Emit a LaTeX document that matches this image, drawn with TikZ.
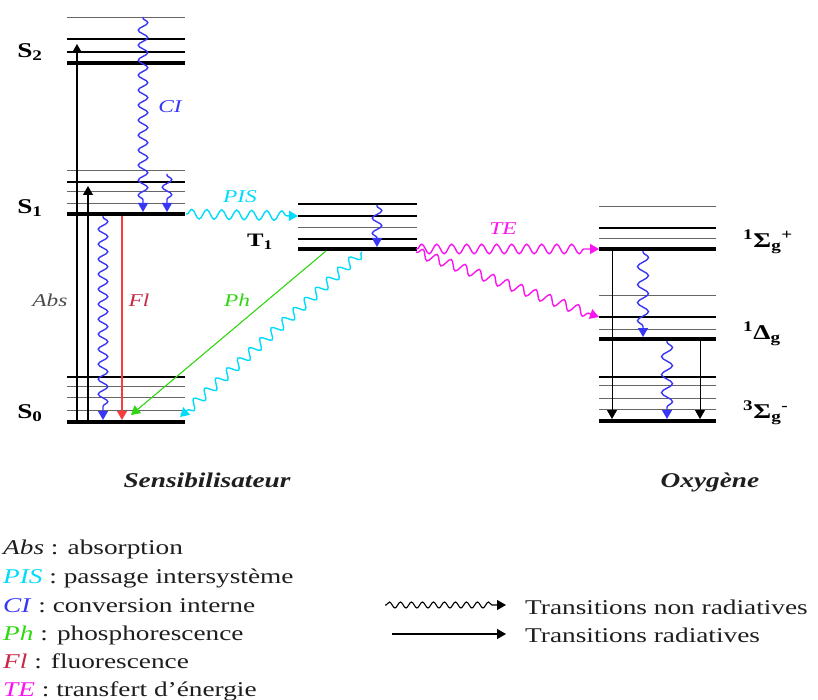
\documentclass[tikz,border=0pt]{standalone}
\usepackage{fontspec}
\setmainfont{Liberation Serif}
\usepackage{graphicx}
\usetikzlibrary{decorations.pathmorphing,arrows.meta}

\definecolor{ciblue}{RGB}{55,55,245}
\definecolor{piscyan}{RGB}{0,220,250}
\definecolor{temag}{RGB}{250,20,240}
\definecolor{phgreen}{RGB}{50,215,20}
\definecolor{flred}{RGB}{250,60,60}
\definecolor{fltext}{RGB}{200,40,70}
\definecolor{txt}{RGB}{30,30,30}

% text is set a little wider than it is high
\newcommand\wide[1]{\scalebox{1.3}[1]{#1}}

\begin{document}
\begin{tikzpicture}[x=1pt,y=-1pt,
  lvthin/.style={draw=black!60,line width=0.9pt},
  lvmid/.style={draw=black,line width=1.6pt},
  lvmain/.style={draw=black,line width=4pt},
  tipfill/.style={-{Triangle[width=10pt,length=9pt]}},
  radiative/.style={tipfill,line width=1.1pt},
  wavy/.style={tipfill,line width=1.4pt,decorate,
    decoration={snake,amplitude=4.8,segment length=15,pre length=1,post length=9}},
  bigwavy/.style={wavy,decoration={snake,amplitude=5.5,segment length=18,pre length=1,post length=9}},
  lab/.style={inner sep=0pt,font=\fontsize{18}{20}\selectfont\itshape},
  lvlab/.style={inner sep=0pt,font=\fontsize{21}{24}\selectfont\bfseries},
  leg/.style={anchor=base west,inner sep=0pt,text=txt,font=\fontsize{21}{24}\selectfont}
]
\useasboundingbox (0,0) rectangle (818,700);

% ---------- energy levels: sensitizer ----------
\foreach \y/\s in {17/lvthin,39/lvmid,52/lvmid,63/lvmain,
                   170/lvthin,182/lvmid,191/lvthin,203/lvthin,214/lvmain,
                   377/lvmid,386/lvthin,397/lvthin,410/lvthin,422/lvmain}
  \path[\s] (67,\y) -- (185,\y);
% triplet T1
\foreach \y/\s in {204/lvmid,216/lvmid,227/lvthin,239/lvmid,249/lvmain}
  \path[\s] (298,\y) -- (417,\y);
% ---------- energy levels: oxygen ----------
\foreach \y/\s in {206/lvthin,228/lvmid,238/lvthin,249/lvmain,
                   295/lvthin,317/lvmid,329/lvthin,339/lvmain,
                   377/lvmid,385/lvthin,398/lvthin,409/lvthin,421/lvmain}
  \path[\s] (599,\y) -- (716,\y);

% ---------- level labels ----------
\node[lvlab] (lS2) at (30,52) {\wide{S\textsubscript{2}}};
\node[lvlab] (lS1) at (30,208) {\wide{S\textsubscript{1}}};
\node[lvlab] (lS0) at (30,413) {\wide{S\textsubscript{0}}};
\node[lvlab,font=\fontsize{19}{22}\selectfont\bfseries] (lT1) at (260,242) {\wide{T\textsubscript{1}}};
\node[lvlab,anchor=west] (lSgp) at (743,242) {\wide{\textsuperscript{1}Σ\textsubscript{g}\textsuperscript{+}}};
\node[lvlab,anchor=west] (lDg) at (743,334) {\wide{\textsuperscript{1}Δ\textsubscript{g}}};
\node[lvlab,anchor=west] (lSgm) at (743,413) {\wide{\textsuperscript{3}Σ\textsubscript{g}\textsuperscript{-}}};

% ---------- transition end points ----------
\coordinate (absA0) at (77,422);  \coordinate (absA1) at (77,44);
\coordinate (absB0) at (88,422);  \coordinate (absB1) at (88,186);
\coordinate (ciA0) at (143,17);   \coordinate (ciA1) at (143,212);
\coordinate (ciB0) at (167,174);  \coordinate (ciB1) at (167,212);
\coordinate (ciC0) at (103,216);  \coordinate (ciC1) at (103,420);
\coordinate (fl0) at (122,216);   \coordinate (fl1) at (122,420);
\coordinate (pis0) at (186,214);  \coordinate (pis1) at (298,216);
\coordinate (ciT0) at (377,205);  \coordinate (ciT1) at (377,247);
\coordinate (ph0) at (326,251);   \coordinate (ph1) at (131,415);
\coordinate (pisT0) at (362,252); \coordinate (pisT1) at (180,417);
\coordinate (teA0) at (416,249);  \coordinate (teA1) at (599,249);
\coordinate (teB0) at (416,252);  \coordinate (teB1) at (599,317);
\coordinate (ciO0) at (643,251);  \coordinate (ciO1) at (643,337);
\coordinate (ciP0) at (667,341);  \coordinate (ciP1) at (667,419);
\coordinate (rdO0) at (612,251);  \coordinate (rdO1) at (612,419);
\coordinate (rdP0) at (700,341);  \coordinate (rdP1) at (700,419);

% ---------- radiative transitions ----------
\draw[radiative] (absA0) -- (absA1);
\draw[radiative] (absB0) -- (absB1);
\draw[radiative,draw=flred,fill=flred] (fl0) -- (fl1);
\draw[radiative,draw=phgreen,fill=phgreen] (ph0) -- (ph1);
\draw[radiative,line width=0.9pt] (rdO0) -- (rdO1);
\draw[radiative,line width=0.9pt] (rdP0) -- (rdP1);

% ---------- non-radiative transitions ----------
\draw[wavy,ciblue] (ciA0) -- (ciA1);
\draw[wavy,ciblue] (ciB0) -- (ciB1);
\draw[wavy,ciblue] (ciC0) -- (ciC1);
\draw[wavy,ciblue] (ciT0) -- (ciT1);
\draw[bigwavy,ciblue] (ciO0) -- (ciO1);
\draw[bigwavy,ciblue] (ciP0) -- (ciP1);
\draw[wavy,piscyan] (pis0) -- (pis1);
\draw[wavy,piscyan] (pisT0) -- (pisT1);
\draw[wavy,temag] (teA0) -- (teA1);
\draw[wavy,temag] (teB0) -- (teB1);

% ---------- transition labels ----------
\node[lab,text=ciblue] (tCI) at (170,107) {\wide{CI}};
\node[lab,text=piscyan] (tPIS) at (240,197) {\wide{PIS}};
\node[lab,text=txt!80] (tAbs) at (50,300) {\wide{Abs}};
\node[lab,text=fltext] (tFl) at (139,300) {\wide{Fl}};
\node[lab,text=phgreen] (tPh) at (237,300) {\wide{Ph}};
\node[lab,text=temag] (tTE) at (503,229) {\wide{TE}};

% ---------- system names ----------
\node[anchor=base,inner sep=0pt,text=txt,font=\fontsize{21}{24}\selectfont\bfseries\itshape]
  (sens) at (207,487) {\wide{Sensibilisateur}};
\node[anchor=base,inner sep=0pt,text=txt,font=\fontsize{21}{24}\selectfont\bfseries\itshape]
  (oxy) at (710,487) {\wide{Oxygène}};

% ---------- key ----------
\node[leg] (kAbs) at (3,554) {\wide{\textit{Abs} : absorption}};
\node[leg] (kPIS) at (3,583) {\wide{\textcolor{piscyan}{\textit{PIS}} : passage intersystème}};
\node[leg] (kCI)  at (3,612) {\wide{\textcolor{ciblue}{\textit{CI}} : conversion interne}};
\node[leg] (kPh)  at (3,640) {\wide{\textcolor{phgreen}{\textit{Ph}} : phosphorescence}};
\node[leg] (kFl)  at (3,668) {\wide{\textcolor{fltext}{\textit{Fl}} : fluorescence}};
\node[leg] (kTE)  at (3,696) {\wide{\textcolor{temag}{\textit{TE}} : transfert d'énergie}};

\coordinate (kw0) at (385,605); \coordinate (kw1) at (506,605);
\coordinate (kr0) at (392,634); \coordinate (kr1) at (506,634);
\draw[wavy,black,line width=1.1pt,decoration={snake,amplitude=3,segment length=11,pre length=1,post length=9}] (kw0) -- (kw1);
\draw[radiative] (kr0) -- (kr1);
\node[leg] (kNR) at (525,614) {\wide{Transitions non radiatives}};
\node[leg] (kR)  at (525,642) {\wide{Transitions radiatives}};
\end{tikzpicture}
\end{document}
